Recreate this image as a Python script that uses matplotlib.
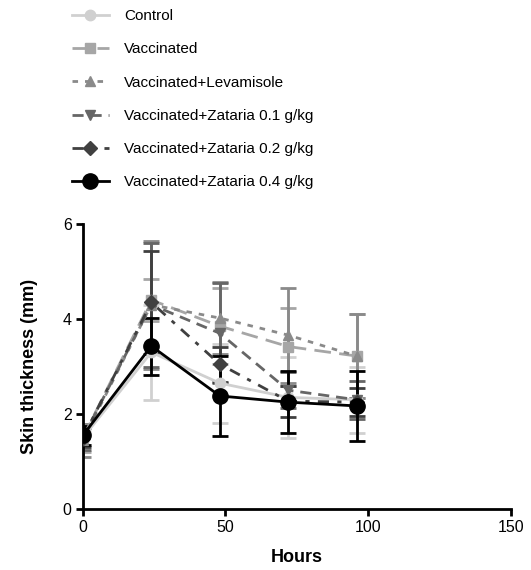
import matplotlib.pyplot as plt

plt.rcParams['font.family'] = ['Liberation Sans', 'DejaVu Sans']

hours = [0, 24, 48, 72, 96]

labels = ['Control', 'Vaccinated', 'Vaccinated+Levamisole',
          'Vaccinated+Zataria 0.1 g/kg', 'Vaccinated+Zataria 0.2 g/kg',
          'Vaccinated+Zataria 0.4 g/kg']

control = [1.5, 3.3, 2.65, 2.35, 2.3]
control_err = [0.15, 1.0, 0.83, 0.86, 0.7]

vaccinated = [1.5, 4.4, 3.85, 3.42, 3.22]
vaccinated_err = [0.3, 0.45, 0.8, 0.82, 0.88]

levamisole = [1.45, 4.3, 4.02, 3.66, 3.22]
levamisole_err = [0.35, 1.35, 0.75, 1.0, 0.88]

zat01 = [1.5, 4.3, 3.7, 2.5, 2.3]
zat01_err = [0.25, 1.3, 1.05, 0.38, 0.4]

zat02 = [1.5, 4.35, 3.05, 2.27, 2.25]
zat02_err = [0.2, 1.08, 0.37, 0.33, 0.3]

zat04 = [1.55, 3.43, 2.38, 2.25, 2.17]
zat04_err = [0.2, 0.6, 0.85, 0.65, 0.73]

series = [control, vaccinated, levamisole, zat01, zat02, zat04]
errors = [control_err, vaccinated_err, levamisole_err, zat01_err, zat02_err, zat04_err]

colors = ['#d0d0d0', '#a6a6a6', '#8a8a8a', '#666666', '#404040', '#000000']
markers = ['o', 's', '^', 'v', 'D', 'o']
msizes = [7.5, 7.5, 7.5, 7.5, 7.5, 11]
styles = ['-', (0, (6, 3)), (0, (2, 2.5)), (0, (4, 2.5)), (0, (4, 3, 1.5, 3)), '-']

fig = plt.figure(figsize=(5.31, 5.70), dpi=100)
ax = fig.add_axes([0.156, 0.107, 0.806, 0.5])

handles = []
for vals, err, c, m, ms, ls, lab in zip(series, errors, colors, markers, msizes, styles, labels):
    ax.errorbar(hours, vals, yerr=err, color=c, ecolor=c, elinewidth=2,
                capsize=6, capthick=2, linestyle='none', zorder=2)
    ln, = ax.plot(hours, vals, color=c, marker=m, markersize=ms, linestyle=ls,
                  linewidth=2, label=lab, zorder=3)
    handles.append(ln)

ax.set_xlim(0, 150)
ax.set_ylim(0, 6)
ax.set_xticks([0, 50, 100, 150])
ax.set_yticks([0, 2, 4, 6])
ax.spines['top'].set_visible(False)
ax.spines['right'].set_visible(False)
ax.spines['left'].set_linewidth(2)
ax.spines['bottom'].set_linewidth(2)
ax.tick_params(width=2, length=5, labelsize=11.5, direction='out', pad=3)
ax.set_xlabel('Hours', fontsize=13, fontweight='bold', labelpad=10)
ax.set_ylabel('Skin thickness (mm)', fontsize=13, fontweight='bold', labelpad=18)
for sp in ['left', 'bottom']:
    ax.spines[sp].set_clip_on(False)

fig.legend(handles=handles, loc='upper left', bbox_to_anchor=(0.11, 1.008),
           frameon=False, fontsize=11, handlelength=2.4, labelspacing=1.26,
           handletextpad=1.0, markerscale=1.0)

plt.savefig('out.png', dpi=100)
